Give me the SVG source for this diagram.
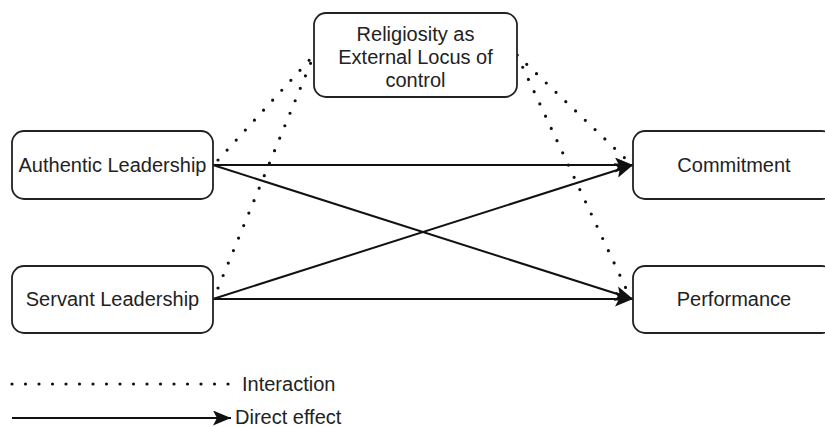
<svg xmlns="http://www.w3.org/2000/svg" width="825" height="427" viewBox="0 0 825 427">
<style>
.box{fill:#fff;stroke:#222;stroke-width:1.8}
.t{font-family:"Liberation Sans",Arial,sans-serif;font-size:20px;fill:#222;text-anchor:middle}
.lt{font-family:"Liberation Sans",Arial,sans-serif;font-size:20px;fill:#222}
.solid{stroke:#111;stroke-width:2;fill:none}
.dot{stroke:#111;stroke-width:3.2;fill:none;stroke-dasharray:0 13.5;stroke-linecap:round}
</style>
<defs>
<marker id="arr" markerUnits="userSpaceOnUse" markerWidth="19" markerHeight="15" viewBox="0 0 19 15" refX="18" refY="7.5" orient="auto">
<path d="M0,0 L18,7.5 L0,15 L4,7.5 Z" fill="#111"/>
</marker>
</defs>
<g id="connectors">
<line class="solid" x1="213" y1="165" x2="633" y2="165" marker-end="url(#arr)"/>
<line class="solid" x1="213" y1="165" x2="633" y2="299" marker-end="url(#arr)"/>
<line class="solid" x1="213" y1="299" x2="633" y2="165" marker-end="url(#arr)"/>
<line class="solid" x1="213" y1="299" x2="633" y2="299" marker-end="url(#arr)"/>
<line class="dot" x1="218" y1="160" x2="314" y2="55"/>
<line class="dot" x1="218" y1="288" x2="314" y2="55"/>
<line class="dot" x1="517" y1="55" x2="630" y2="163"/>
<line class="dot" x1="517" y1="55" x2="630" y2="297"/>
</g>
<g id="religiosity">
<rect class="box" x="314" y="13" width="203" height="84" rx="12"/>
<text class="t" x="415.5" y="41">Religiosity as</text>
<text class="t" x="415.5" y="64">External Locus of</text>
<text class="t" x="415.5" y="87">control</text>
</g>
<g id="authentic">
<rect class="box" x="12" y="131" width="201" height="68" rx="12"/>
<text class="t" x="112.5" y="172">Authentic Leadership</text>
</g>
<g id="servant">
<rect class="box" x="12" y="266" width="201" height="67" rx="12"/>
<text class="t" x="112.5" y="306">Servant Leadership</text>
</g>
<g id="commitment">
<rect class="box" x="633" y="131" width="201" height="68" rx="12"/>
<text class="t" x="734" y="172">Commitment</text>
</g>
<g id="performance">
<rect class="box" x="633" y="266" width="201" height="67" rx="12"/>
<text class="t" x="734" y="306">Performance</text>
</g>
<g id="legend">
<line class="dot" x1="12" y1="384" x2="230" y2="384"/>
<text class="lt" x="242" y="391">Interaction</text>
<line class="solid" x1="12" y1="418" x2="231" y2="418" marker-end="url(#arr)"/>
<text class="lt" x="235" y="424">Direct effect</text>
</g>
</svg>
